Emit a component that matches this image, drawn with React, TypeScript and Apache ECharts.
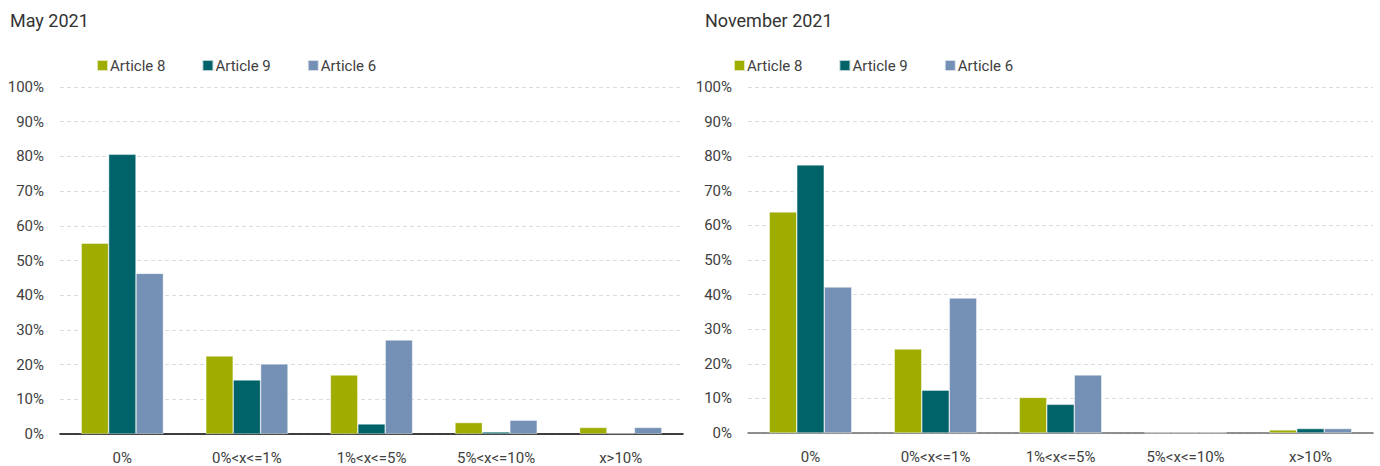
import React, { useEffect, useRef } from "react";
import * as echarts from "echarts";

const categories = ["0%", "0%<x<=1%", "1%<x<=5%", "5%<x<=10%", "x>10%"];
const seriesNames = ["Article 8", "Article 9", "Article 6"];
const colors = ["#9fac00", "#00636a", "#7490b5"];
const titles = ["May 2021", "November 2021"];

const mayArticle8 = [55.0, 22.5, 17.0, 3.3, 1.9];
const mayArticle9 = [80.6, 15.6, 2.9, 0.6, 0.2];
const mayArticle6 = [46.3, 20.2, 27.1, 4.0, 1.9];

const novArticle8 = [63.9, 24.3, 10.3, 0.1, 0.9];
const novArticle9 = [77.5, 12.4, 8.3, 0.1, 1.3];
const novArticle6 = [42.2, 39.0, 16.8, 0.1, 1.3];

const FONT = "Roboto, 'Liberation Sans', sans-serif";
const TEXT = "#404040";

export default function App() {
  const ref = useRef<HTMLDivElement>(null);
  useEffect(() => {
    if (!ref.current) return;
    const chart = echarts.init(ref.current, null, { renderer: "svg" });
    const data = [
      [mayArticle8, mayArticle9, mayArticle6],
      [novArticle8, novArticle9, novArticle6],
    ];
    const grids = [
      { left: 60, width: 623, top: 87, height: 347 },
      { left: 748, width: 625, top: 87, height: 346 },
    ];
    const titleLeft = [5, 700];
    const legendLeft = [91, 728];
    const axisColors = ["#000000", "#6b6b6b"];
    const series: any[] = [];
    data.forEach((group, gi) => {
      group.forEach((vals, si) => {
        series.push({
          type: "bar",
          name: seriesNames[si],
          xAxisIndex: gi,
          yAxisIndex: gi,
          data: vals,
          barGap: "0%",
          barCategoryGap: "34%",
          itemStyle: { color: colors[si], borderColor: "rgba(255,255,255,0.7)", borderWidth: 0.6 },
        });
      });
    });
    chart.setOption({
      animation: false,
      textStyle: { fontFamily: FONT },
      color: colors,
      title: titles.map((t, i) => ({
        text: t,
        left: titleLeft[i],
        top: 6,
        textStyle: { fontFamily: FONT, fontSize: 18, fontWeight: "normal", color: "#333" },
      })),
      legend: [0, 1].map((i) => ({
        data: seriesNames,
        left: legendLeft[i],
        top: 53,
        itemWidth: 11,
        itemHeight: 11,
        itemGap: 36,
        icon: "rect",
        textStyle: { fontFamily: FONT, fontSize: 15, color: TEXT, padding: [0, 0, 0, -3] },
      })),
      grid: grids,
      xAxis: [0, 1].map((i) => ({
        type: "category",
        gridIndex: i,
        data: categories,
        axisTick: { show: false },
        axisLine: { lineStyle: { color: axisColors[i], width: 1.5 } },
        axisLabel: { fontFamily: FONT, fontSize: 15, color: TEXT, margin: 16, interval: 0 },
      })),
      yAxis: [0, 1].map((i) => ({
        type: "value",
        gridIndex: i,
        min: 0,
        max: 100,
        interval: 10,
        axisLine: { show: false },
        axisTick: { show: false },
        axisLabel: { fontFamily: FONT, fontSize: 15, color: TEXT, margin: 16, formatter: "{value}%" },
        splitLine: { lineStyle: { color: "#dcdcdc", type: [4, 3], width: 1 } },
      })),
      series,
    });
    return () => chart.dispose();
  }, []);
  return (
    <div
      ref={ref}
      style={{ position: "fixed", left: 0, top: 0, width: 1380, height: 466, background: "#fff" }}
    />
  );
}
